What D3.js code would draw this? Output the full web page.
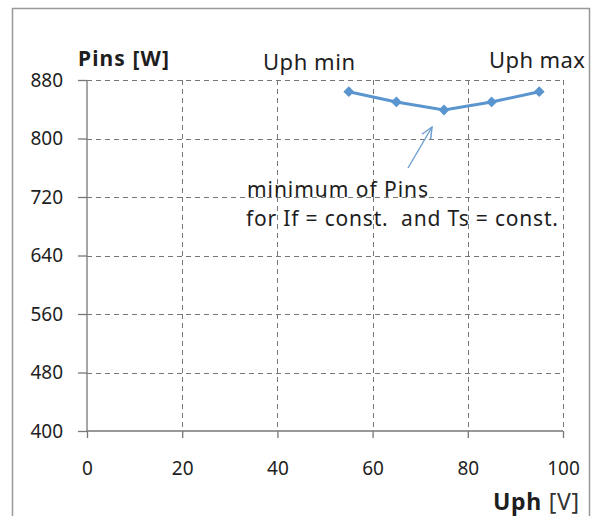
<!doctype html>
<html lang="en">
  <head>
    <title>Pins vs Uph</title>
    <style>
      body { margin: 0; background: #fff; }
      svg { display: block; }
      text { font-family: "Noto Sans", sans-serif; fill: #1e1e1e; white-space: pre; }
    </style>
  </head>
  <body>
    <div id="chart"></div>
    <script src="https://cdn.jsdelivr.net/npm/d3@7"></script>
    <script>
      // data
      const uph = [55, 65, 75, 85, 95]
      const pins = [864, 850, 839, 850, 864]
      const yTicks = [400, 480, 560, 640, 720, 800, 880]
      const xTicks = [0, 20, 40, 60, 80, 100]

      const width = 599
      const height = 516
      const svg = d3.select('#chart').append('svg')
        .attr('width', width)
        .attr('height', height)

      // outer frame (bottom edge falls off the picture)
      svg.append('path')
        .attr('d', 'M12.5,530 V8.5 H589.5 V530')
        .attr('fill', 'none')
        .attr('stroke', '#999')
        .attr('stroke-width', 1.5)

      const x = d3.scaleLinear().domain([0, 100]).range([87, 563])
      const y = d3.scaleLinear().domain([400, 880]).range([431, 80])

      const grid = svg.append('g')
        .attr('stroke', '#777')
        .attr('stroke-dasharray', '5,4')
        .attr('stroke-width', 1)
      grid.selectAll('.h').data(yTicks.filter(d => d > 400)).enter()
        .append('line')
          .attr('x1', x(0)).attr('x2', x(100))
          .attr('y1', d => Math.round(y(d)) + 0.5).attr('y2', d => Math.round(y(d)) + 0.5)
      grid.selectAll('.v').data(xTicks.filter(d => d > 0)).enter()
        .append('line')
          .attr('x1', d => Math.round(x(d)) + 0.5).attr('x2', d => Math.round(x(d)) + 0.5)
          .attr('y1', y(880)).attr('y2', y(400))

      const yAxis = svg.append('g')
        .attr('transform', `translate(${x(0)},0)`)
        .call(d3.axisLeft(y).tickValues(yTicks).tickSize(9).tickPadding(15))
      const xAxis = svg.append('g')
        .attr('transform', `translate(0,${y(400)})`)
        .call(d3.axisBottom(x).tickValues(xTicks).tickSize(7).tickPadding(24))
      ;[yAxis, xAxis].forEach(a => {
        a.select('.domain').attr('stroke', '#777').attr('stroke-width', 1.3)
        a.selectAll('.tick line').attr('stroke', '#777').attr('stroke-width', 1.3)
        a.selectAll('text').style('font-size', '19px').style('font-family', '"Noto Sans", sans-serif').attr('fill', '#1e1e1e')
      })
      yAxis.select('.domain').attr('d', `M0,${y(880)}V${y(400)}`)
      xAxis.select('.domain').attr('d', `M${x(0)},0H${x(100)}`)

      const blue = '#5b95cf'
      const line = d3.line().x((d, i) => x(uph[i])).y(d => y(d))
      svg.append('path')
        .attr('d', line(pins))
        .attr('fill', 'none')
        .attr('stroke', blue)
        .attr('stroke-width', 3)
      svg.selectAll('.pt').data(pins).enter()
        .append('path')
          .attr('d', d3.symbol(d3.symbolDiamond2, 75))
          .attr('transform', (d, i) => `translate(${x(uph[i])},${y(d)})`)
          .attr('fill', blue)

      // annotation arrow
      svg.append('defs').append('marker')
        .attr('id', 'arr').attr('viewBox', '0 0 10 10')
        .attr('refX', 9).attr('refY', 5)
        .attr('markerWidth', 9).attr('markerHeight', 9)
        .attr('orient', 'auto')
        .append('path').attr('d', 'M0,1 L9,5 L0,9').attr('fill', 'none').attr('stroke', '#6f9fd0').attr('stroke-width', 1.2)
      svg.append('line')
        .attr('x1', 408).attr('y1', 168).attr('x2', 432).attr('y2', 127)
        .attr('stroke', '#6f9fd0').attr('stroke-width', 1.4)
        .attr('marker-end', 'url(#arr)')

      const txt = (s, tx, ty, size, len, bold) => svg.append('text')
        .attr('x', tx).attr('y', ty)
        .attr('textLength', len).attr('lengthAdjust', 'spacing')
        .style('font-size', size + 'px')
        .style('font-weight', bold ? 'bold' : 'normal')
        .text(s)

      txt('Pins [W]', 78, 66, 21, 91, true)
      txt('Uph min', 263, 70, 22, 92)
      txt('Uph max', 489, 68, 22, 96)
      txt('minimum of Pins', 247, 197, 21, 181)
      txt('for If = const.  and Ts = const.', 246, 226, 21, 312)
      const ax = svg.append('text').attr('x', 493).attr('y', 510)
        .attr('textLength', 86).attr('lengthAdjust', 'spacing')
        .style('font-size', '23px')
      ax.append('tspan').style('font-weight', 'bold').text('Uph ')
      ax.append('tspan').attr('fill', '#333').text('[V]')
    </script>
  </body>
</html>
